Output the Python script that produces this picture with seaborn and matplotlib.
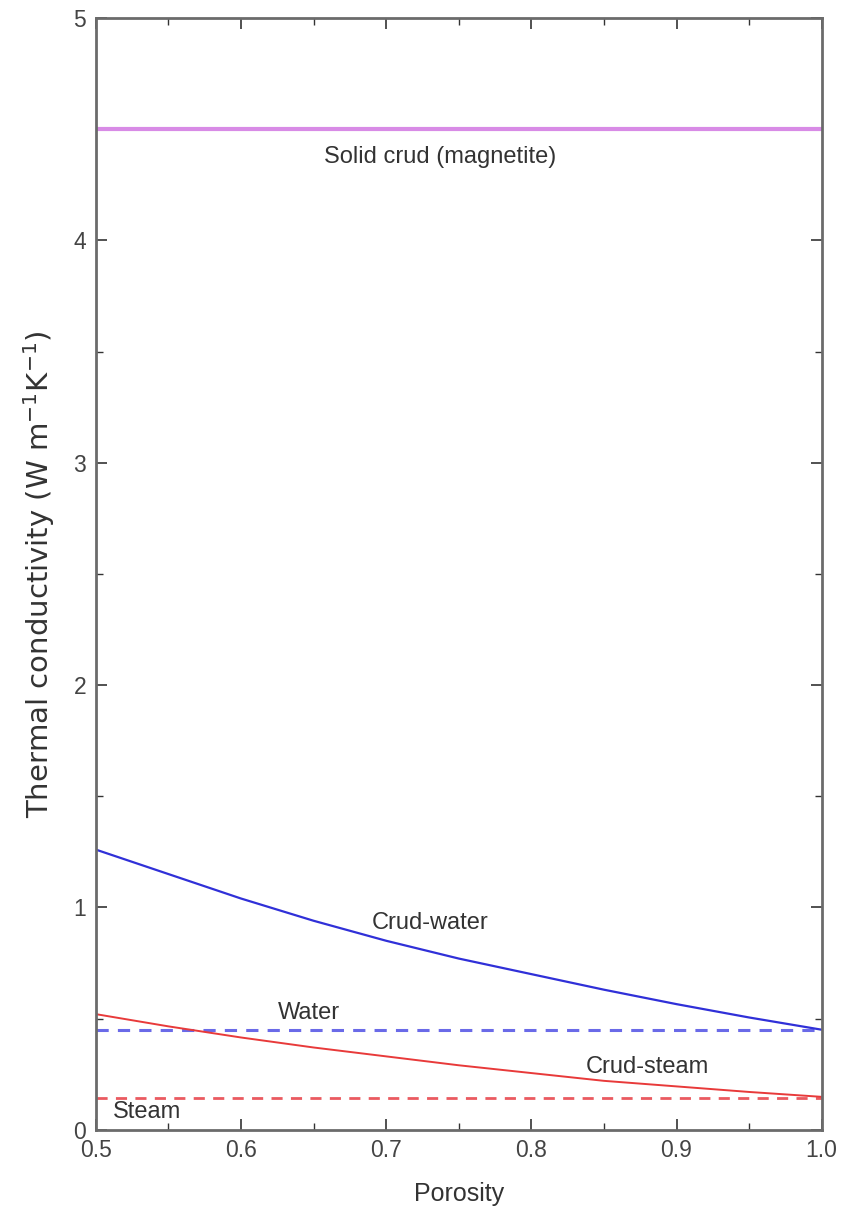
import numpy as np
import pandas as pd
import seaborn as sns
import matplotlib.pyplot as plt
from matplotlib.ticker import MultipleLocator, FormatStrFormatter

# porosity grid and curves
porosity = [0.50, 0.55, 0.60, 0.65, 0.70, 0.75, 0.80, 0.85, 0.90, 0.95, 1.00]
crud_water = [1.26, 1.15, 1.04, 0.94, 0.85, 0.77, 0.70, 0.63, 0.565, 0.505, 0.45]
crud_steam = [0.52, 0.465, 0.415, 0.37, 0.33, 0.29, 0.255, 0.22, 0.195, 0.17, 0.148]

# constant reference levels
k_magnetite = 4.5
k_water = 0.45
k_steam = 0.145

labels = ["Solid crud (magnetite)", "Crud-water", "Water", "Crud-steam", "Steam"]

sns.set_theme(style="ticks")
plt.rcParams['font.family'] = ['Liberation Sans', 'DejaVu Sans']

fig, ax = plt.subplots(figsize=(8.41, 12.07), dpi=100)
fig.subplots_adjust(left=0.114, right=0.977, bottom=0.064, top=0.985)

ends = [porosity[0], porosity[-1]]
flat = pd.DataFrame({
    "p": ends,
    "mag": [k_magnetite] * 2,
    "water": [k_water] * 2,
    "steam": [k_steam] * 2,
})
curves = pd.DataFrame({"p": porosity, "cw": crud_water, "cs": crud_steam})

sns.lineplot(data=flat, x="p", y="mag", color="#d88be6", lw=3, ax=ax)
sns.lineplot(data=flat, x="p", y="water", color="#6a6ae8", lw=2.2, ax=ax,
             linestyle=(0, (4, 3)))
sns.lineplot(data=flat, x="p", y="steam", color="#ea5a60", lw=2.0, ax=ax,
             linestyle=(0, (4, 3)))
sns.lineplot(data=curves, x="p", y="cw", color="#3030d8", lw=1.6, ax=ax)
sns.lineplot(data=curves, x="p", y="cs", color="#e83a3a", lw=1.4, ax=ax)

txt = dict(fontsize=17, color="#333333")
ax.text(0.737, 4.375, labels[0], ha="center", va="center", **txt)
ax.text(0.73, 0.93, labels[1], ha="center", va="center", **txt)
ax.text(0.647, 0.526, labels[2], ha="center", va="center", **txt)
ax.text(0.88, 0.28, labels[3], ha="center", va="center", **txt)
ax.text(0.512, 0.078, labels[4], ha="left", va="center", **txt)

ax.set_xlim(0.5, 1.0)
ax.set_ylim(0, 5)
ax.xaxis.set_major_locator(MultipleLocator(0.1))
ax.xaxis.set_minor_locator(MultipleLocator(0.05))
ax.yaxis.set_major_locator(MultipleLocator(1))
ax.yaxis.set_minor_locator(MultipleLocator(0.5))
ax.xaxis.set_major_formatter(FormatStrFormatter("%.1f"))
ax.yaxis.set_major_formatter(FormatStrFormatter("%d"))

ax.tick_params(which="both", direction="in", top=True, right=True,
               color="#333333", labelsize=16.5, labelcolor="#444444")
ax.tick_params(axis="y", pad=7)
ax.tick_params(axis="x", pad=7)
ax.tick_params(which="major", length=8, width=1.2)
ax.tick_params(which="minor", length=5, width=1.0)
for s in ax.spines.values():
    s.set_color("#6b6b6b")
    s.set_linewidth(2)

ax.set_xlabel("Porosity", fontsize=18, color="#333333", labelpad=14)
ax.set_ylabel("Thermal conductivity (W m$^{-1}$K$^{-1}$)", fontsize=21,
              color="#333333", family="DejaVu Sans", labelpad=12)

fig.savefig("out.png", dpi=100)
